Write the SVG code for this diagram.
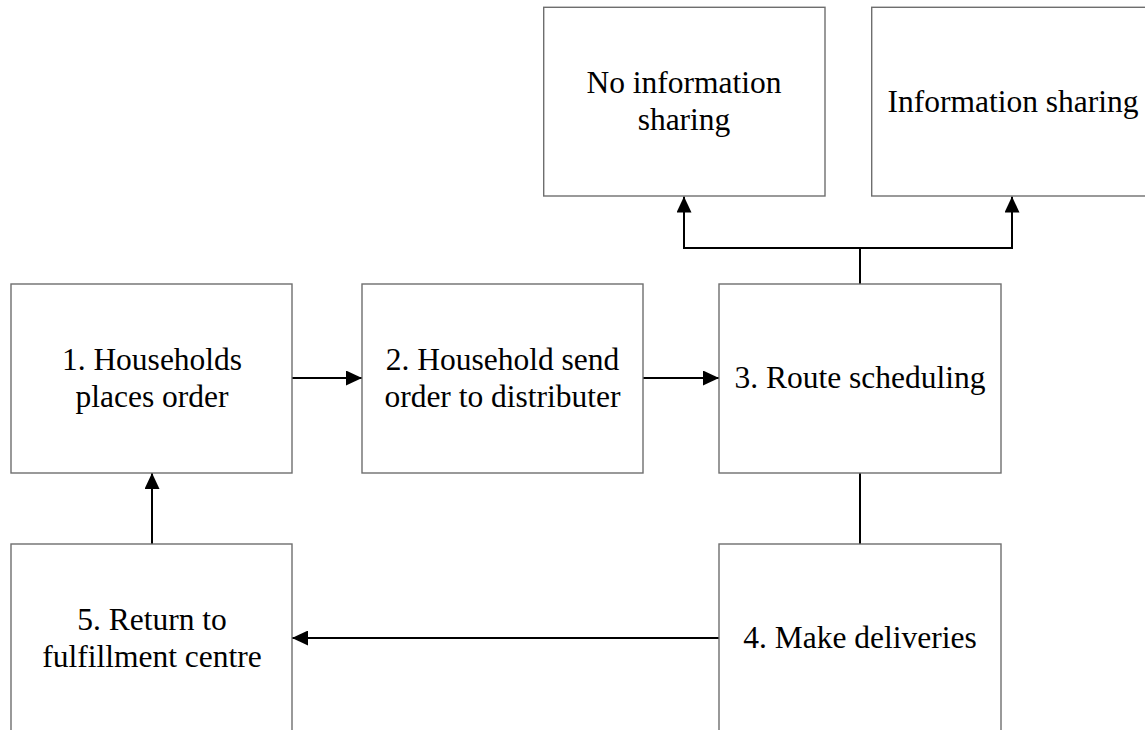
<svg xmlns="http://www.w3.org/2000/svg" width="1145" height="730" viewBox="0 0 1145 730">
  <style>
    .box { fill: #ffffff; stroke: #6e6e6e; stroke-width: 1.4; }
    .lbl { font-family: "Liberation Serif", "Times New Roman", serif; font-size: 31.5px; fill: #000000; text-anchor: middle; }
    .conn { fill: none; stroke: #000000; stroke-width: 2; }
  </style>
  <defs>
    <marker id="arrow" viewBox="0 0 16 15" refX="16" refY="7.5" markerWidth="16" markerHeight="15" markerUnits="userSpaceOnUse" orient="auto">
      <path d="M0,0 L16,7.5 L0,15 Z" fill="#000000"/>
    </marker>
  </defs>
  <rect width="1145" height="730" fill="#ffffff"/>

  <g id="connectors">
    <line class="conn" x1="292" y1="378" x2="362" y2="378" marker-end="url(#arrow)"/>
    <line class="conn" x1="643" y1="378" x2="719" y2="378" marker-end="url(#arrow)"/>
    <line class="conn" x1="860" y1="284" x2="860" y2="248"/>
    <polyline class="conn" points="860,248 684,248 684,196.5" marker-end="url(#arrow)"/>
    <polyline class="conn" points="860,248 1012,248 1012,196.5" marker-end="url(#arrow)"/>
    <line class="conn" x1="860" y1="473" x2="860" y2="544"/>
    <line class="conn" x1="719" y1="638" x2="292" y2="638" marker-end="url(#arrow)"/>
    <line class="conn" x1="152" y1="544" x2="152" y2="473" marker-end="url(#arrow)"/>
  </g>

  <g id="node-no-info">
    <rect class="box" x="543.7" y="7.3" width="281.3" height="188.7"/>
    <text class="lbl" x="684" y="93">No information</text>
    <text class="lbl" x="684" y="130">sharing</text>
  </g>
  <g id="node-info">
    <rect class="box" x="871.7" y="7.3" width="281.3" height="188.7"/>
    <text class="lbl" x="1013" y="111.7">Information sharing</text>
  </g>
  <g id="node-1">
    <rect class="box" x="11" y="284" width="281" height="189"/>
    <text class="lbl" x="152" y="370">1. Households</text>
    <text class="lbl" x="152" y="407">places order</text>
  </g>
  <g id="node-2">
    <rect class="box" x="362" y="284" width="281" height="189"/>
    <text class="lbl" x="502.5" y="370">2. Household send</text>
    <text class="lbl" x="502.5" y="407">order to distributer</text>
  </g>
  <g id="node-3">
    <rect class="box" x="719" y="284" width="282" height="189"/>
    <text class="lbl" x="860" y="388.3">3. Route scheduling</text>
  </g>
  <g id="node-4">
    <rect class="box" x="719" y="544" width="282" height="189"/>
    <text class="lbl" x="860" y="648.3">4. Make deliveries</text>
  </g>
  <g id="node-5">
    <rect class="box" x="11" y="544" width="281" height="189"/>
    <text class="lbl" x="152" y="630">5. Return to</text>
    <text class="lbl" x="152" y="666.7">fulfillment centre</text>
  </g>
</svg>
